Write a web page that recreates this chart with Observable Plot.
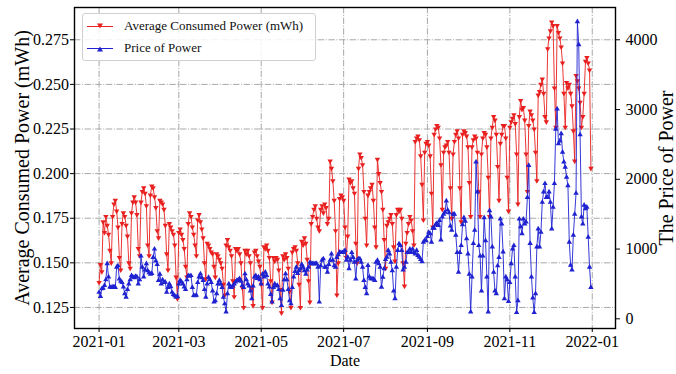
<!DOCTYPE html>
<html><head><meta charset="utf-8">
<script src="https://cdn.jsdelivr.net/npm/d3@7"></script>
<script src="https://cdn.jsdelivr.net/npm/@observablehq/plot@0.6"></script>
<style>
body{margin:0;background:#fff;}
#wrap{position:relative;width:676px;height:374px;overflow:hidden;font-family:"Liberation Serif","Times New Roman",serif;}
#wrap > svg{position:absolute;left:0;top:0;}
.legend{position:absolute;left:82px;top:13px;width:234px;height:48px;border:1px solid #d0d0d0;border-radius:3px;background:rgba(255,255,255,0.85);box-sizing:border-box;}
.legend .row{position:absolute;left:4px;height:14px;display:flex;align-items:center;font-size:13px;color:#111;white-space:nowrap;}
#wrap .legend .row svg{position:static;margin-right:10px;flex:none;}
</style></head><body><div id="wrap"></div>
<script>
const startDate = "2021-01-01";
const seriesNames = ["Average Consumed Power (mWh)", "Price of Power"];
const leftLabel = "Average Consumed Power (mWh)";
const rightLabel = "The Price of Power";
const xLabel = "Date";
const xTickLabels = ["2021-01","2021-03","2021-05","2021-07","2021-09","2021-11","2022-01"];
const leftTicks = [0.125,0.150,0.175,0.200,0.225,0.250,0.275];
const rightTicks = [0,1000,2000,3000,4000];

// daily average consumed power (mWh), 2021-01-01 .. 2021-12-31
const consumedPower = [
0.139,0.149,0.145,
0.173,0.167,0.176,0.171,0.166,0.157,0.150,
0.176,0.183,0.185,0.179,0.170,0.153,0.146,
0.172,0.178,0.176,0.171,0.165,0.150,0.147,
0.178,0.184,0.187,0.184,0.177,0.158,0.154,
0.184,0.190,0.192,0.189,0.182,0.160,0.154,
0.188,0.193,0.192,0.187,0.181,0.168,0.164,
0.185,0.184,0.183,0.180,0.171,0.155,0.146,
0.172,0.170,0.168,0.166,0.160,0.142,0.130,
0.167,0.169,0.166,0.163,0.158,0.148,0.142,
0.172,0.178,0.176,0.170,0.166,0.160,0.154,
0.174,0.177,0.173,0.169,0.164,0.150,0.141,
0.161,0.160,0.158,0.156,0.155,0.148,0.142,
0.155,0.154,0.152,0.150,0.147,0.138,0.132,
0.160,0.163,0.159,0.157,0.154,0.140,0.131,
0.158,0.157,0.158,0.155,0.150,0.136,0.125,
0.157,0.155,0.157,0.154,0.150,0.136,0.126,
0.156,0.157,0.154,0.151,0.148,0.138,0.125,
0.159,0.158,0.160,0.157,0.153,0.140,0.128,
0.153,0.151,0.153,0.152,0.146,0.135,0.122,
0.154,0.152,0.155,0.153,0.147,0.134,0.125,
0.156,0.158,0.159,0.157,0.150,0.138,0.125,
0.162,0.160,0.164,0.161,0.152,0.140,0.128,
0.172,0.176,0.180,0.182,0.175,0.170,0.168,
0.180,0.182,0.178,0.183,0.181,0.172,0.175,
0.207,0.203,0.196,0.185,0.168,0.132,0.150,
0.186,0.188,0.187,0.185,0.170,0.153,0.165,
0.197,0.195,0.196,0.192,0.189,0.161,0.150,
0.203,0.211,0.209,0.205,0.190,0.175,0.160,
0.188,0.190,0.192,0.194,0.185,0.170,0.159,
0.208,0.200,0.195,0.190,0.180,0.163,0.147,
0.171,0.173,0.175,0.177,0.172,0.159,0.151,
0.177,0.180,0.179,0.180,0.175,0.150,0.137,
0.161,0.167,0.172,0.176,0.174,0.168,0.160,
0.218,0.220,0.221,0.219,0.210,0.194,0.174,
0.212,0.217,0.218,0.216,0.210,0.189,0.170,
0.222,0.225,0.227,0.226,0.220,0.205,0.180,
0.212,0.215,0.216,0.218,0.212,0.192,0.175,
0.211,0.218,0.222,0.224,0.220,0.192,0.173,
0.222,0.224,0.223,0.221,0.215,0.195,0.176,
0.215,0.219,0.221,0.220,0.212,0.190,0.176,
0.211,0.220,0.223,0.222,0.215,0.198,0.176,
0.220,0.226,0.232,0.230,0.222,0.204,0.185,
0.217,0.222,0.227,0.227,0.220,0.198,0.179,
0.226,0.229,0.231,0.233,0.228,0.211,0.183,
0.232,0.241,0.236,0.237,0.230,0.211,0.190,
0.227,0.235,0.233,0.230,0.225,0.212,0.196,
0.244,0.246,0.250,0.253,0.245,0.232,0.229,
0.270,0.276,0.280,0.285,0.283,0.248,0.226,
0.283,0.279,0.276,0.271,0.262,0.245,0.226,
0.251,0.248,0.250,0.245,0.238,0.224,0.207,
0.255,0.252,0.248,0.240,0.226,0.232,0.245,
0.263,0.265,0.262,0.258,0.203
];

// daily price of power, same dates
const powerPrice = [
380,320,430,
440,480,560,790,600,455,450,
455,460,450,740,760,570,540,
520,455,360,310,420,500,560,
620,600,590,610,600,500,560,
900,740,600,700,790,690,660,
640,650,880,1000,830,780,550,
640,500,560,520,525,380,450,
500,460,380,350,330,310,320,
500,550,530,500,455,420,560,
620,610,620,450,335,330,340,
520,600,645,590,550,420,310,
500,595,560,520,400,240,260,
360,500,550,500,450,310,215,
100,360,500,455,450,470,500,
530,550,560,575,540,480,450,
645,560,500,470,400,290,470,
600,620,580,600,560,500,640,
600,670,620,500,455,350,240,
450,500,470,480,420,290,190,
410,560,645,560,420,260,215,
450,600,680,740,650,690,720,
780,740,690,640,700,740,810,
790,790,790,790,790,740,240,
760,840,860,740,740,670,780,
840,930,840,760,740,880,920,
955,950,950,955,980,840,885,
720,840,950,880,810,570,840,
860,860,810,740,550,450,360,
765,600,575,575,570,550,810,
837,790,741,453,597,717,850,
885,980,930,810,690,400,290,
740,980,1076,1050,980,700,740,
813,950,950,1000,951,1000,950,
930,980,910,885,850,820,1100,
1124,1120,1180,1240,1220,1100,1300,
1300,1350,1370,1340,1410,1130,1460,
1500,1530,1690,1560,1520,1330,1270,
1500,1500,1200,950,670,950,1050,
1350,1450,1400,1150,930,640,100,
600,1080,1270,2250,1820,1050,900,
400,900,1450,1120,600,100,1550,
1460,1030,670,400,360,760,880,
1430,1360,960,290,600,560,250,
520,790,1000,1050,600,90,260,
1430,1320,1220,1430,1360,1390,1740,
2200,1080,600,300,90,360,1030,
1290,1030,1240,1670,1820,1940,1740,
1740,1820,1670,1290,1600,1940,2720,
3010,2510,2550,2655,2390,2250,2175,
2030,1910,1100,770,700,1200,1500,
1800,4260,3930,2640,1460,1360,1630,
1580,1600,1170,740,450
];

const RED = "#e8201f";
const BLUE = "#1f22d0";
const GRID = "#a8a8a8";
const DASH = "6.4,1.6,1,1.6";

const t0 = new Date(startDate + "T00:00:00Z");
const dates = consumedPower.map((_, i) => d3.utcDay.offset(t0, i));
const redData = dates.map((date, i) => ({date, value: consumedPower[i]}));
const blueData = dates.map((date, i) => ({date, value: powerPrice[i]}));
const xTicks = xTickLabels.map(s => new Date(s + "-01T00:00:00Z"));
const span = dates[dates.length - 1] - dates[0];
const xDomain = [new Date(+dates[0] - 0.05 * span), new Date(+dates[dates.length - 1] + 0.05 * span)];

const W = 676, H = 374;
const M = {marginLeft: 74, marginRight: 61, marginTop: 7, marginBottom: 46};
const FONT = "Liberation Serif, Times New Roman, serif";

const p1 = Plot.plot({
  width: W, height: H, ...M,
  style: {fontFamily: FONT, fontSize: "16px", background: "transparent", color: "#000", overflow: "visible"},
  x: {type: "utc", domain: xDomain, axis: null},
  y: {domain: [0.1132, 0.2931], axis: null},
  marks: [
    Plot.ruleX(xTicks, {stroke: GRID, strokeWidth: 1, strokeDasharray: DASH}),
    Plot.ruleY(leftTicks, {stroke: GRID, strokeWidth: 1, strokeDasharray: DASH}),
    Plot.lineY(redData, {x: "date", y: "value", stroke: RED, strokeWidth: 0.9}),
    Plot.dot(redData, {x: "date", y: "value", symbol: "triangle", rotate: 180, r: 2, fill: RED, stroke: "none"}),
    Plot.axisX({ticks: xTicks, tickFormat: (d, i) => xTickLabels[i], tickSize: 4, tickPadding: 3, label: null, fontSize: 16}),
    Plot.axisY({ticks: leftTicks, tickFormat: d3.format(".3f"), tickSize: 4, tickPadding: 1.5, label: null, fontSize: 16}),
    Plot.text([leftLabel], {text: d => d, frameAnchor: "left", textAnchor: "middle", dx: -52, rotate: -90, fontSize: 20}),
    Plot.text([xLabel], {text: d => d, frameAnchor: "bottom", textAnchor: "middle", dy: 37, fontSize: 16}),
    Plot.frame({stroke: "#000", strokeWidth: 1.4})
  ]
});

const p2 = Plot.plot({
  width: W, height: H, ...M,
  style: {fontFamily: FONT, fontSize: "16px", background: "transparent", color: "#000", overflow: "visible"},
  x: {type: "utc", domain: xDomain, axis: null},
  y: {domain: [-139, 4463], axis: null},
  marks: [
    Plot.lineY(blueData, {x: "date", y: "value", stroke: BLUE, strokeWidth: 0.9}),
    Plot.dot(blueData, {x: "date", y: "value", symbol: "triangle", r: 2, fill: BLUE, stroke: "none"}),
    Plot.axisY({anchor: "right", ticks: rightTicks, tickFormat: d => String(d), tickSize: 4, tickPadding: 6, label: null, fontSize: 16}),
    Plot.text([rightLabel], {text: d => d, frameAnchor: "right", textAnchor: "middle", dx: 51, rotate: -90, fontSize: 20})
  ]
});

const wrap = document.getElementById("wrap");
wrap.appendChild(p1);
wrap.appendChild(p2);

// legend
const legend = document.createElement("div");
legend.className = "legend";
const colors = [RED, BLUE];
const rowTops = [5, 27];
seriesNames.forEach((name, i) => {
  const row = document.createElement("div");
  row.className = "row";
  row.style.top = rowTops[i] + "px";
  const tri = i === 0 ? "M10,3.5 L16,3.5 L13,8.5 Z" : "M10,9.5 L16,9.5 L13,4.5 Z";
  row.innerHTML = `<svg width="27" height="13"><line x1="0" y1="6.5" x2="26" y2="6.5" stroke="${colors[i]}" stroke-width="1"/><path d="${tri}" fill="${colors[i]}"/></svg><span>${name}</span>`;
  legend.appendChild(row);
});
wrap.appendChild(legend);
</script>
</body></html>
